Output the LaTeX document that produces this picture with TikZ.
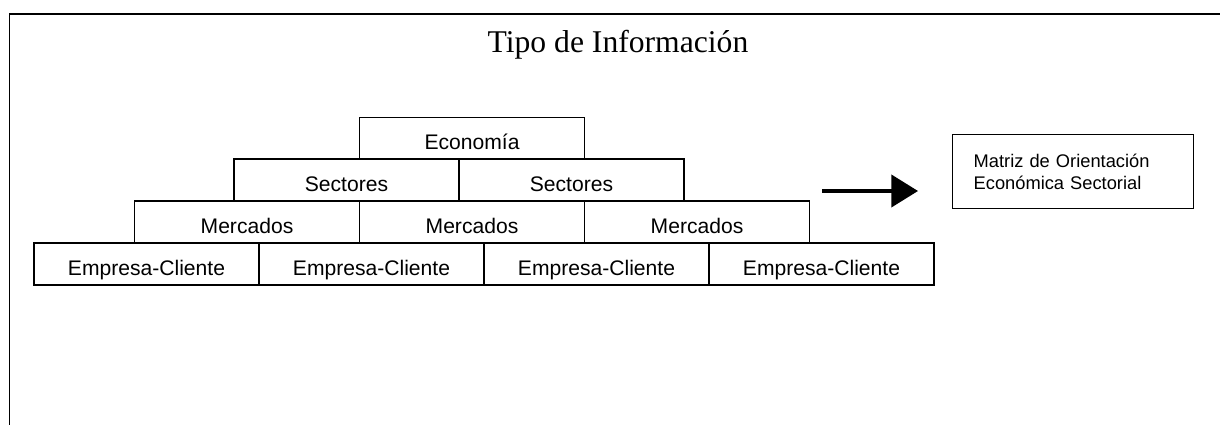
\documentclass[tikz,border=0pt]{standalone}
\usepackage{fontspec}
\setmainfont{Liberation Serif}
\setsansfont{Liberation Sans}
\usetikzlibrary{arrows.meta}

\begin{document}
\begin{tikzpicture}[x=0.025cm, y=-0.025cm,
	brick/.style={rectangle, draw, line width=1pt, minimum width=5.625cm, inner ysep=0pt,
		text height=0.8cm, text depth=0.25cm, font=\sffamily\fontsize{15}{18}\selectfont},
	matrixbox/.style={rectangle, draw, line width=1pt, anchor=north west, align=left,
		text width=4.975cm, inner xsep=0.525cm, minimum height=1.85cm,
		font=\sffamily\fontsize{13}{15.6}\selectfont},
	arr/.style={line width=2.2pt, -{Triangle[length=19pt, width=23pt]}}]
	\clip (0, 0) rectangle (1220, 425);

	% Frame and title
	\draw[line width=1.4pt] (9.5, 450) -- (9.5, 14) -- (1240, 14);
	\node[font=\fontsize{22.5}{27}\selectfont] (title) at (618, 45) {Tipo de Información};

	% Pyramid of information types
	\node[brick] (eco) at (472, 138.5) {Economía};

	\node[brick] (s1) at (346.5, 180) {Sectores};
	\node[brick] (s2) at (571.5, 180) {Sectores};

	\node[brick] (m1) at (247, 222) {Mercados};
	\node[brick] (m2) at (472, 222) {Mercados};
	\node[brick] (m3) at (697, 222) {Mercados};

	\node[brick] (e1) at (146.5, 264) {Empresa-Cliente};
	\node[brick] (e2) at (371.5, 264) {Empresa-Cliente};
	\node[brick] (e3) at (596.5, 264) {Empresa-Cliente};
	\node[brick] (e4) at (821.5, 264) {Empresa-Cliente};

	% Result
	\node[matrixbox] (moes) at (952, 134) {Matriz de Orientación\\Económica Sectorial};

	\coordinate (from) at (822, 191);
	\coordinate (to) at (918, 191);
	\draw[arr] (from) -- (to);
\end{tikzpicture}
\end{document}
